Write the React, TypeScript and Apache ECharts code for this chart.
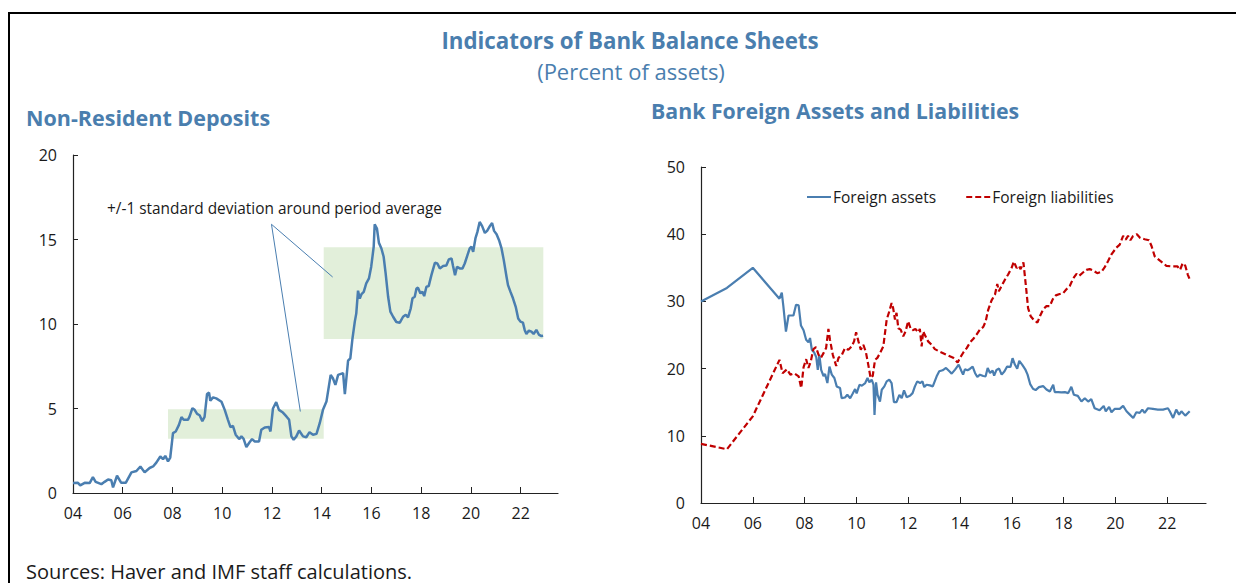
import React, { useEffect, useRef } from "react";
import * as echarts from "echarts";

// ---------- Data ----------
const tickYears = [2004, 2006, 2008, 2010, 2012, 2014, 2016, 2018, 2020, 2022];

// Non-resident deposits (percent of assets)
const ndYears = [
  2004.0, 2004.2, 2004.29, 2004.47, 2004.67, 2004.8, 2004.91, 2005.14, 2005.27, 2005.41, 2005.54, 2005.61, 2005.77, 2005.94,
  2006.12, 2006.35, 2006.55, 2006.71, 2006.88, 2007.08, 2007.22, 2007.35, 2007.51, 2007.62, 2007.71, 2007.82, 2007.91,
  2008.02, 2008.13, 2008.26, 2008.36, 2008.45, 2008.62, 2008.69, 2008.8, 2008.89, 2008.99, 2009.09, 2009.2, 2009.29,
  2009.39, 2009.47, 2009.52, 2009.63, 2009.76, 2009.97, 2010.1, 2010.23, 2010.33, 2010.43, 2010.54, 2010.68, 2010.77,
  2010.86, 2010.97, 2011.1, 2011.2, 2011.31, 2011.48, 2011.57, 2011.71, 2011.88, 2011.94, 2012.04, 2012.17, 2012.28,
  2012.44, 2012.58, 2012.69, 2012.78, 2012.87, 2012.98, 2013.09, 2013.25, 2013.38, 2013.51, 2013.65, 2013.79, 2013.92,
  2014.05, 2014.19, 2014.36, 2014.45, 2014.55, 2014.66, 2014.86, 2014.93, 2015.06, 2015.15, 2015.23, 2015.33, 2015.39,
  2015.46, 2015.53, 2015.6, 2015.69, 2015.79, 2015.9, 2015.99, 2016.09, 2016.13, 2016.22, 2016.3, 2016.4, 2016.49,
  2016.57, 2016.67, 2016.76, 2016.87, 2017.0, 2017.14, 2017.27, 2017.38, 2017.47, 2017.58, 2017.65, 2017.74, 2017.81,
  2017.87, 2017.97, 2018.05, 2018.12, 2018.21, 2018.3, 2018.41, 2018.55, 2018.65, 2018.75, 2018.88, 2019.01, 2019.11,
  2019.22, 2019.28, 2019.36, 2019.44, 2019.55, 2019.66, 2019.75, 2019.86, 2019.95, 2020.02, 2020.09, 2020.18, 2020.26,
  2020.35, 2020.45, 2020.56, 2020.65, 2020.76, 2020.85, 2020.93, 2021.03, 2021.13, 2021.23, 2021.32, 2021.43, 2021.49,
  2021.59, 2021.69, 2021.8, 2021.9, 2021.99, 2022.09, 2022.16, 2022.23, 2022.33, 2022.43, 2022.52, 2022.63, 2022.74,
  2022.83, 2022.9,
];
const ndValues = [
  0.59, 0.6, 0.45, 0.6, 0.59, 0.94, 0.66, 0.52, 0.66, 0.8, 0.75, 0.33, 1.02, 0.6,
  0.6, 1.22, 1.3, 1.57, 1.22, 1.48, 1.57, 1.8, 2.16, 2.0, 2.2, 1.87, 2.1,
  3.54, 3.64, 4.03, 4.49, 4.33, 4.33, 4.53, 5.02, 4.92, 4.68, 4.6, 4.25, 4.5,
  5.86, 5.94, 5.46, 5.66, 5.6, 5.4, 4.92, 4.33, 3.9, 3.97, 3.45, 3.19, 3.35,
  3.2, 2.72, 3.0, 3.19, 3.05, 3.05, 3.74, 3.88, 3.9, 3.64, 5.0, 5.38, 4.92,
  4.76, 4.53, 4.33, 3.35, 3.15, 3.35, 3.7, 3.35, 3.3, 3.6, 3.45, 3.5, 4.13,
  4.92, 5.41, 6.99, 6.79, 6.4, 6.99, 7.09, 5.85, 7.83, 7.97, 9.06, 10.14, 10.63,
  11.97, 11.5, 11.77, 11.9, 12.4, 12.7, 13.39, 14.57, 15.9, 15.65, 14.8, 14.47, 13.98,
  12.99, 11.61, 10.73, 10.43, 10.12, 10.08, 10.43, 10.55, 10.39, 10.93, 11.52, 11.61, 12.1,
  12.15, 11.81, 11.91, 11.65, 12.2, 12.24, 12.89, 13.62, 13.58, 13.29, 13.43, 13.46, 13.82,
  13.88, 13.43, 12.89, 13.39, 13.29, 13.29, 13.58, 14.08, 14.47, 14.57, 14.27, 15.06, 15.45,
  16.04, 15.79, 15.39, 15.51, 15.79, 15.98, 15.51, 15.31, 14.96, 14.47, 13.78, 12.8, 12.3,
  11.9, 11.52, 11.02, 10.33, 10.14, 10.08, 9.65, 9.41, 9.61, 9.55, 9.41, 9.65, 9.35,
  9.29, 9.31,
];

// +/-1 standard deviation bands around period averages
const bandStart = [2007.82, 2014.08];
const bandEnd = [2014.08, 2022.91];
const bandLow = [3.21, 9.11];
const bandHigh = [4.95, 14.54];

const annotationText = "+/-1 standard deviation around period average";
const pointerFrom = [2011.98, 15.9];
const pointerTo = [
  [2014.44, 12.78],
  [2013.14, 4.82],
];

// Bank foreign assets (percent of assets)
const faYears = [
  2004.0, 2005.0, 2006.0, 2007.03, 2007.12, 2007.18, 2007.28, 2007.38, 2007.57, 2007.67, 2007.77, 2007.86, 2007.96,
  2008.06, 2008.15, 2008.21, 2008.28, 2008.37, 2008.45, 2008.51, 2008.57, 2008.64, 2008.73, 2008.79, 2008.88, 2008.96,
  2009.05, 2009.15, 2009.24, 2009.37, 2009.43, 2009.56, 2009.65, 2009.76, 2009.86, 2009.95, 2010.01, 2010.12, 2010.21,
  2010.34, 2010.43, 2010.5, 2010.59, 2010.66, 2010.7, 2010.76, 2010.82, 2010.91, 2010.98, 2011.08, 2011.17, 2011.27,
  2011.36, 2011.45, 2011.55, 2011.66, 2011.75, 2011.84, 2011.94, 2012.07, 2012.17, 2012.26, 2012.35, 2012.46, 2012.55,
  2012.62, 2012.71, 2012.84, 2012.95, 2013.1, 2013.2, 2013.33, 2013.46, 2013.59, 2013.68, 2013.81, 2013.95, 2014.06,
  2014.12, 2014.19, 2014.29, 2014.38, 2014.49, 2014.58, 2014.67, 2014.77, 2014.9, 2014.99, 2015.07, 2015.16, 2015.26,
  2015.32, 2015.41, 2015.51, 2015.61, 2015.72, 2015.82, 2015.95, 2016.03, 2016.12, 2016.21, 2016.29, 2016.4, 2016.52,
  2016.61, 2016.71, 2016.82, 2016.92, 2017.05, 2017.21, 2017.34, 2017.47, 2017.6, 2017.66, 2017.79, 2017.92, 2018.05,
  2018.18, 2018.3, 2018.4, 2018.55, 2018.69, 2018.82, 2018.95, 2019.07, 2019.2, 2019.39, 2019.55, 2019.63, 2019.76,
  2019.85, 2019.97, 2020.17, 2020.3, 2020.43, 2020.56, 2020.69, 2020.81, 2020.94, 2021.04, 2021.13, 2021.26, 2021.45,
  2021.64, 2021.84, 2022.03, 2022.1, 2022.23, 2022.35, 2022.46, 2022.55, 2022.7, 2022.87,
];
const faValues = [
  30.0, 32.0, 35.0, 30.4, 31.3, 29.3, 25.5, 27.9, 27.9, 29.5, 29.4, 26.4, 25.7,
  24.3, 23.9, 24.55, 22.8, 22.4, 21.7, 19.8, 22.05, 19.8, 18.9, 19.2, 17.85, 20.3,
  19.1, 18.6, 17.35, 17.1, 15.6, 15.7, 16.1, 15.6, 16.3, 16.95, 16.3, 17.6, 17.45,
  17.85, 18.6, 17.95, 18.35, 17.6, 13.1, 17.95, 16.1, 15.1, 16.85, 17.35, 18.1, 18.35,
  17.85, 15.0, 15.0, 16.1, 15.6, 16.75, 15.75, 15.95, 16.35, 17.35, 18.1, 17.85, 18.1,
  17.25, 17.6, 17.5, 17.35, 18.85, 19.6, 19.75, 20.1, 19.6, 19.25, 19.85, 20.6, 19.6,
  19.1, 19.9, 19.75, 19.95, 20.3, 19.35, 18.75, 19.1, 18.9, 18.85, 20.1, 19.35, 19.7,
  18.95, 19.8, 20.0, 19.1, 19.6, 20.3, 20.25, 21.55, 20.6, 20.0, 21.15, 20.6, 19.9,
  19.1, 17.7, 17.0, 16.8, 17.25, 17.4, 16.9, 16.6, 17.6, 16.5, 16.5, 16.45, 16.5,
  16.35, 17.3, 16.1, 15.95, 15.1, 15.6, 15.1, 15.45, 14.1, 13.8, 14.45, 13.65, 14.3,
  13.5, 14.0, 14.0, 14.45, 13.65, 13.15, 12.65, 13.5, 13.4, 13.9, 13.4, 14.1, 14.0,
  13.9, 13.9, 14.1, 13.65, 12.65, 13.9, 13.15, 13.65, 13.0, 13.65,
];

// Bank foreign liabilities (percent of assets)
const flYears = [
  2004.0, 2005.0, 2006.0, 2007.03, 2007.15, 2007.32, 2007.45, 2007.6, 2007.77, 2007.87, 2007.96, 2008.06, 2008.15,
  2008.24, 2008.34, 2008.44, 2008.54, 2008.63, 2008.73, 2008.83, 2008.92, 2008.98, 2009.09, 2009.22, 2009.31, 2009.44,
  2009.56, 2009.69, 2009.82, 2009.91, 2009.99, 2010.08, 2010.17, 2010.27, 2010.37, 2010.46, 2010.55, 2010.63, 2010.72,
  2010.81, 2010.91, 2011.04, 2011.17, 2011.27, 2011.36, 2011.42, 2011.49, 2011.55, 2011.62, 2011.71, 2011.81, 2011.9,
  2012.0, 2012.09, 2012.17, 2012.28, 2012.39, 2012.45, 2012.52, 2012.58, 2012.67, 2012.77, 2012.9, 2013.03, 2013.23,
  2013.48, 2013.74, 2013.91, 2014.0, 2014.13, 2014.26, 2014.39, 2014.51, 2014.64, 2014.77, 2014.9, 2014.99, 2015.09,
  2015.22, 2015.35, 2015.44, 2015.5, 2015.6, 2015.73, 2015.86, 2015.99, 2016.08, 2016.19, 2016.27, 2016.34, 2016.45,
  2016.5, 2016.56, 2016.63, 2016.73, 2016.86, 2016.99, 2017.1, 2017.21, 2017.34, 2017.47, 2017.58, 2017.7, 2017.85,
  2017.98, 2018.11, 2018.24, 2018.37, 2018.5, 2018.6, 2018.75, 2018.88, 2019.01, 2019.14, 2019.3, 2019.46, 2019.59,
  2019.72, 2019.85, 2020.04, 2020.17, 2020.3, 2020.4, 2020.49, 2020.58, 2020.68, 2020.83, 2020.96, 2021.13, 2021.3,
  2021.4, 2021.52, 2021.71, 2021.97, 2022.2, 2022.4, 2022.5, 2022.6, 2022.7, 2022.8, 2022.9,
];
const flValues = [
  8.8, 8.0, 12.9, 21.3, 19.3, 19.9, 19.1, 19.3, 18.85, 17.1, 20.2, 21.4, 20.1,
  21.1, 22.9, 23.2, 22.05, 21.6, 22.3, 23.05, 25.9, 24.3, 22.05, 20.4, 21.6, 22.05,
  23.05, 22.8, 23.3, 24.05, 25.4, 24.05, 22.8, 23.55, 22.4, 20.55, 18.6, 18.9, 21.3,
  21.6, 22.3, 23.3, 27.3, 28.5, 29.75, 29.0, 27.3, 28.3, 26.0, 25.8, 24.8, 25.55,
  27.05, 26.0, 25.7, 25.9, 25.4, 25.9, 23.3, 25.55, 24.8, 24.05, 23.55, 22.9, 22.5,
  22.05, 21.6, 20.9, 21.6, 22.4, 23.05, 23.9, 24.4, 25.05, 25.8, 26.2, 27.0, 28.75,
  30.15, 31.0, 32.6, 31.5, 32.25, 33.2, 34.0, 34.95, 35.9, 34.95, 35.3, 34.8, 35.8,
  34.0, 31.75, 29.0, 27.8, 27.2, 26.85, 27.9, 28.8, 29.3, 29.3, 30.3, 30.9, 31.1,
  31.2, 31.8, 32.3, 33.4, 34.1, 33.8, 34.3, 34.7, 34.8, 34.6, 34.2, 34.4, 35.1,
  36.0, 37.0, 38.0, 38.45, 39.75, 39.2, 39.75, 39.1, 39.7, 40.0, 39.45, 39.25, 39.1,
  38.2, 36.7, 36.1, 35.3, 35.2, 35.2, 34.7, 35.7, 35.3, 33.95, 33.0,
];

// ---------- Styles ----------
const FONT = "Open Sans";
const TITLE_BLUE = "#4a7eae";
const LINE_BLUE = "#4a7eb0";
const RED = "#c00000";
const BAND_GREEN = "#e2efda";
const TEXT = "#1a1a1a";

const pairs = (xs: number[], ys: number[]) => xs.map((x, i) => [x, ys[i]]);

function xAxisFor(gridIndex: number) {
  return {
    type: "value",
    gridIndex,
    min: 2004,
    max: 2023.5,
    interval: 2,
    axisLine: { show: true, onZero: false, lineStyle: { color: "#222", width: 1.2 } },
    axisTick: { show: true, inside: true, length: 6, customValues: tickYears, lineStyle: { color: "#222" } },
    axisLabel: {
      customValues: tickYears,
      formatter: (v: number) => String(Math.round(v) % 100).padStart(2, "0"),
      fontSize: 16,
      fontFamily: FONT,
      color: TEXT,
      margin: 12,
    },
    splitLine: { show: false },
  };
}

function yAxisFor(gridIndex: number, max: number, interval: number) {
  return {
    type: "value",
    gridIndex,
    min: 0,
    max,
    interval,
    axisLine: { show: true, lineStyle: { color: "#222", width: 1.2 } },
    axisTick: { show: true, inside: true, length: 5, lineStyle: { color: "#222" } },
    axisLabel: { fontSize: 16, fontFamily: FONT, color: TEXT, margin: 16 },
    splitLine: { show: false },
  };
}

export default function App() {
  const ref = useRef<HTMLDivElement>(null);

  useEffect(() => {
    if (!ref.current) return;
    const chart = echarts.init(ref.current, undefined, { renderer: "svg" });

    const option = {
      animation: false,
      backgroundColor: "#ffffff",
      textStyle: { fontFamily: FONT },
      grid: [
        { left: 73, top: 155, width: 485, height: 338 },
        { left: 701, top: 167, width: 505, height: 336 },
      ],
      xAxis: [xAxisFor(0), xAxisFor(1)],
      yAxis: [yAxisFor(0, 20, 5), yAxisFor(1, 50, 10)],
      legend: {
        data: ["Foreign assets", "Foreign liabilities"],
        left: 801,
        top: 184,
        itemWidth: 24,
        itemHeight: 12,
        itemGap: 29,
        itemStyle: { opacity: 0 },
        textStyle: { fontSize: 15.5, fontFamily: FONT, color: TEXT, padding: [0, 0, 0, -3] },
      },
      series: [
        {
          name: "Non-Resident Deposits",
          type: "line",
          xAxisIndex: 0,
          yAxisIndex: 0,
          data: pairs(ndYears, ndValues),
          symbol: "none",
          lineStyle: { color: LINE_BLUE, width: 2.5 },
          z: 3,
          markArea: {
            silent: true,
            itemStyle: { color: BAND_GREEN },
            data: bandStart.map((s, i) => [
              { coord: [s, bandLow[i]] },
              { coord: [bandEnd[i], bandHigh[i]] },
            ]),
          },
          markLine: {
            silent: true,
            symbol: ["none", "none"],
            label: { show: false },
            lineStyle: { color: LINE_BLUE, width: 1, type: "solid" },
            data: pointerTo.map((p) => [{ coord: pointerFrom }, { coord: p }]),
          },
        },
        {
          name: "Foreign assets",
          type: "line",
          xAxisIndex: 1,
          yAxisIndex: 1,
          data: pairs(faYears, faValues),
          symbol: "none",
          itemStyle: { color: LINE_BLUE },
          lineStyle: { color: LINE_BLUE, width: 2.2 },
        },
        {
          name: "Foreign liabilities",
          type: "line",
          xAxisIndex: 1,
          yAxisIndex: 1,
          data: pairs(flYears, flValues),
          symbol: "none",
          itemStyle: { color: RED },
          lineStyle: { color: RED, width: 2.2, type: [6, 3] },
        },
      ],
      graphic: [
        { type: "line", shape: { x1: 9, y1: 13, x2: 1236, y2: 13 }, style: { stroke: "#000", lineWidth: 2 } },
        { type: "line", shape: { x1: 9, y1: 12, x2: 9, y2: 583 }, style: { stroke: "#000", lineWidth: 2 } },
        {
          type: "text",
          x: 630,
          y: 40,
          style: {
            text: "Indicators of Bank Balance Sheets",
            fill: TITLE_BLUE,
            font: `bold 22.3px "${FONT}"`,
            textAlign: "center",
            textVerticalAlign: "middle",
          },
        },
        {
          type: "text",
          x: 631,
          y: 71,
          style: {
            text: "(Percent of assets)",
            fill: TITLE_BLUE,
            font: `22px "${FONT}"`,
            textAlign: "center",
            textVerticalAlign: "middle",
          },
        },
        {
          type: "text",
          x: 26,
          y: 117,
          style: {
            text: "Non-Resident Deposits",
            fill: TITLE_BLUE,
            font: `bold 21.5px "${FONT}"`,
            textAlign: "left",
            textVerticalAlign: "middle",
          },
        },
        {
          type: "text",
          x: 651,
          y: 110,
          style: {
            text: "Bank Foreign Assets and Liabilities",
            fill: TITLE_BLUE,
            font: `bold 21.3px "${FONT}"`,
            textAlign: "left",
            textVerticalAlign: "middle",
          },
        },
        {
          type: "text",
          x: 107,
          y: 208,
          style: {
            text: annotationText,
            fill: TEXT,
            font: `15.4px "${FONT}"`,
            textAlign: "left",
            textVerticalAlign: "middle",
          },
        },
        {
          type: "text",
          x: 26,
          y: 571,
          style: {
            text: "Sources: Haver and IMF staff calculations.",
            fill: TEXT,
            font: `20px "${FONT}"`,
            textAlign: "left",
            textVerticalAlign: "middle",
          },
        },
      ],
    };

    chart.setOption(option as any);
    return () => chart.dispose();
  }, []);

  return (
    <div
      ref={ref}
      style={{ position: "absolute", left: 0, top: 0, width: 1236, height: 583, background: "#fff" }}
    />
  );
}
